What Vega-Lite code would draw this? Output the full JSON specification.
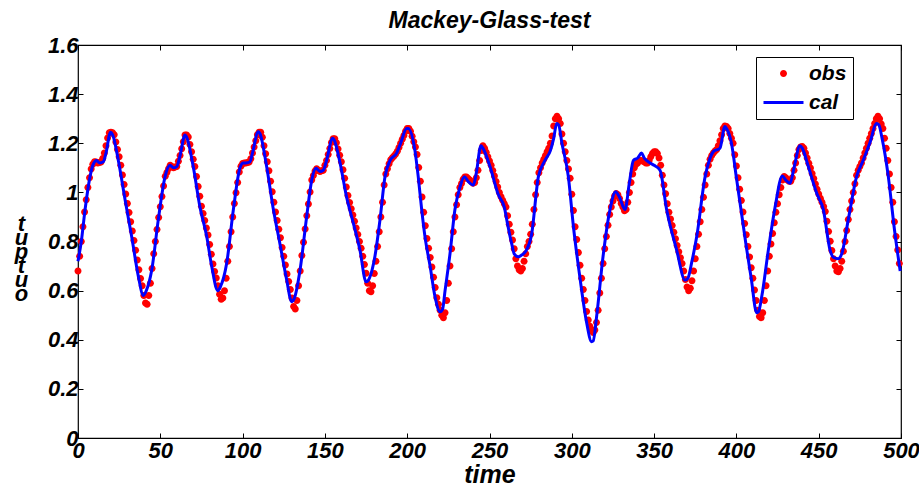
{
"$schema":"https://vega.github.io/schema/vega-lite/v6.json",
"width":823,"height":393,
"autosize":{"type":"none"},
"padding":{"left":78,"top":45,"right":18,"bottom":49},
"background":"white",
"config":{"view":{"stroke":"black","strokeWidth":1.2},"font":"Liberation Sans"},
"title":{"text":"Mackey-Glass-test","fontSize":23,"font":"Liberation Sans","fontWeight":"bold","fontStyle":"italic","color":"black","offset":1},
"datasets":{
"obs":[{"t":0,"v":0.68},{"t":1,"v":0.74},{"t":2,"v":0.80},{"t":3,"v":0.86},{"t":4,"v":0.92},{"t":5,"v":0.97},{"t":6,"v":1.02},{"t":7,"v":1.06},{"t":8,"v":1.095},{"t":9,"v":1.115},{"t":10,"v":1.125},{"t":11,"v":1.124},{"t":12,"v":1.12},{"t":13,"v":1.122},{"t":14,"v":1.124},{"t":15,"v":1.138},{"t":16,"v":1.16},{"t":17,"v":1.19},{"t":18,"v":1.221},{"t":19,"v":1.243},{"t":20,"v":1.245},{"t":21,"v":1.243},{"t":22,"v":1.235},{"t":23,"v":1.205},{"t":24,"v":1.175},{"t":25,"v":1.145},{"t":26,"v":1.11},{"t":27,"v":1.071},{"t":28,"v":1.032},{"t":29,"v":0.993},{"t":30,"v":0.955},{"t":31,"v":0.918},{"t":32,"v":0.88},{"t":33,"v":0.843},{"t":34,"v":0.804},{"t":35,"v":0.764},{"t":36,"v":0.725},{"t":37,"v":0.685},{"t":38,"v":0.649},{"t":39,"v":0.62},{"t":40,"v":0.58},{"t":41,"v":0.55},{"t":42,"v":0.545},{"t":43,"v":0.58},{"t":44,"v":0.63},{"t":45,"v":0.69},{"t":46,"v":0.75},{"t":47,"v":0.80},{"t":48,"v":0.849},{"t":49,"v":0.898},{"t":50,"v":0.941},{"t":51,"v":0.983},{"t":52,"v":1.026},{"t":53,"v":1.066},{"t":54,"v":1.081},{"t":55,"v":1.096},{"t":56,"v":1.11},{"t":57,"v":1.105},{"t":58,"v":1.10},{"t":59,"v":1.103},{"t":60,"v":1.105},{"t":61,"v":1.127},{"t":62,"v":1.15},{"t":63,"v":1.178},{"t":64,"v":1.206},{"t":65,"v":1.234},{"t":66,"v":1.234},{"t":67,"v":1.225},{"t":68,"v":1.195},{"t":69,"v":1.165},{"t":70,"v":1.135},{"t":71,"v":1.105},{"t":72,"v":1.065},{"t":73,"v":1.024},{"t":74,"v":0.984},{"t":75,"v":0.944},{"t":76,"v":0.914},{"t":77,"v":0.885},{"t":78,"v":0.855},{"t":79,"v":0.826},{"t":80,"v":0.788},{"t":81,"v":0.748},{"t":82,"v":0.708},{"t":83,"v":0.678},{"t":84,"v":0.651},{"t":85,"v":0.62},{"t":86,"v":0.585},{"t":87,"v":0.565},{"t":88,"v":0.57},{"t":89,"v":0.60},{"t":90,"v":0.65},{"t":91,"v":0.72},{"t":92,"v":0.78},{"t":93,"v":0.84},{"t":94,"v":0.90},{"t":95,"v":0.955},{"t":96,"v":0.998},{"t":97,"v":1.04},{"t":98,"v":1.083},{"t":99,"v":1.106},{"t":100,"v":1.118},{"t":101,"v":1.12},{"t":102,"v":1.12},{"t":103,"v":1.122},{"t":104,"v":1.124},{"t":105,"v":1.137},{"t":106,"v":1.16},{"t":107,"v":1.185},{"t":108,"v":1.21},{"t":109,"v":1.235},{"t":110,"v":1.245},{"t":111,"v":1.245},{"t":112,"v":1.224},{"t":113,"v":1.19},{"t":114,"v":1.157},{"t":115,"v":1.125},{"t":116,"v":1.088},{"t":117,"v":1.045},{"t":118,"v":1.003},{"t":119,"v":0.96},{"t":120,"v":0.92},{"t":121,"v":0.885},{"t":122,"v":0.85},{"t":123,"v":0.815},{"t":124,"v":0.776},{"t":125,"v":0.74},{"t":126,"v":0.704},{"t":127,"v":0.668},{"t":128,"v":0.637},{"t":129,"v":0.605},{"t":130,"v":0.57},{"t":131,"v":0.535},{"t":132,"v":0.525},{"t":133,"v":0.56},{"t":134,"v":0.62},{"t":135,"v":0.68},{"t":136,"v":0.743},{"t":137,"v":0.797},{"t":138,"v":0.851},{"t":139,"v":0.905},{"t":140,"v":0.953},{"t":141,"v":1.002},{"t":142,"v":1.05},{"t":143,"v":1.069},{"t":144,"v":1.087},{"t":145,"v":1.096},{"t":146,"v":1.09},{"t":147,"v":1.085},{"t":148,"v":1.088},{"t":149,"v":1.09},{"t":150,"v":1.11},{"t":151,"v":1.13},{"t":152,"v":1.154},{"t":153,"v":1.179},{"t":154,"v":1.203},{"t":155,"v":1.218},{"t":156,"v":1.218},{"t":157,"v":1.202},{"t":158,"v":1.177},{"t":159,"v":1.151},{"t":160,"v":1.125},{"t":161,"v":1.092},{"t":162,"v":1.057},{"t":163,"v":1.022},{"t":164,"v":0.987},{"t":165,"v":0.959},{"t":166,"v":0.933},{"t":167,"v":0.908},{"t":168,"v":0.882},{"t":169,"v":0.855},{"t":170,"v":0.828},{"t":171,"v":0.80},{"t":172,"v":0.773},{"t":173,"v":0.74},{"t":174,"v":0.706},{"t":175,"v":0.671},{"t":176,"v":0.63},{"t":177,"v":0.60},{"t":178,"v":0.595},{"t":179,"v":0.62},{"t":180,"v":0.67},{"t":181,"v":0.72},{"t":182,"v":0.78},{"t":183,"v":0.84},{"t":184,"v":0.90},{"t":185,"v":0.96},{"t":186,"v":1.03},{"t":187,"v":1.075},{"t":188,"v":1.096},{"t":189,"v":1.117},{"t":190,"v":1.133},{"t":191,"v":1.141},{"t":192,"v":1.148},{"t":193,"v":1.156},{"t":194,"v":1.167},{"t":195,"v":1.183},{"t":196,"v":1.2},{"t":197,"v":1.216},{"t":198,"v":1.232},{"t":199,"v":1.249},{"t":200,"v":1.26},{"t":201,"v":1.26},{"t":202,"v":1.249},{"t":203,"v":1.228},{"t":204,"v":1.206},{"t":205,"v":1.185},{"t":206,"v":1.154},{"t":207,"v":1.101},{"t":208,"v":1.045},{"t":209,"v":0.981},{"t":210,"v":0.919},{"t":211,"v":0.864},{"t":212,"v":0.812},{"t":213,"v":0.773},{"t":214,"v":0.735},{"t":215,"v":0.696},{"t":216,"v":0.654},{"t":217,"v":0.613},{"t":218,"v":0.571},{"t":219,"v":0.545},{"t":220,"v":0.52},{"t":221,"v":0.50},{"t":222,"v":0.49},{"t":223,"v":0.51},{"t":224,"v":0.56},{"t":225,"v":0.63},{"t":226,"v":0.70},{"t":227,"v":0.77},{"t":228,"v":0.84},{"t":229,"v":0.90},{"t":230,"v":0.95},{"t":231,"v":0.99},{"t":232,"v":1.02},{"t":233,"v":1.036},{"t":234,"v":1.053},{"t":235,"v":1.063},{"t":236,"v":1.063},{"t":237,"v":1.056},{"t":238,"v":1.05},{"t":239,"v":1.044},{"t":240,"v":1.037},{"t":241,"v":1.04},{"t":242,"v":1.06},{"t":243,"v":1.09},{"t":244,"v":1.13},{"t":245,"v":1.17},{"t":246,"v":1.19},{"t":247,"v":1.18},{"t":248,"v":1.163},{"t":249,"v":1.145},{"t":250,"v":1.128},{"t":251,"v":1.11},{"t":252,"v":1.089},{"t":253,"v":1.067},{"t":254,"v":1.044},{"t":255,"v":1.022},{"t":256,"v":0.999},{"t":257,"v":0.982},{"t":258,"v":0.968},{"t":259,"v":0.954},{"t":260,"v":0.94},{"t":261,"v":0.905},{"t":262,"v":0.87},{"t":263,"v":0.838},{"t":264,"v":0.806},{"t":265,"v":0.77},{"t":266,"v":0.73},{"t":267,"v":0.70},{"t":268,"v":0.685},{"t":269,"v":0.68},{"t":270,"v":0.69},{"t":271,"v":0.72},{"t":272,"v":0.75},{"t":273,"v":0.78},{"t":274,"v":0.80},{"t":275,"v":0.83},{"t":276,"v":0.87},{"t":277,"v":0.93},{"t":278,"v":0.99},{"t":279,"v":1.04},{"t":280,"v":1.08},{"t":281,"v":1.10},{"t":282,"v":1.12},{"t":283,"v":1.135},{"t":284,"v":1.15},{"t":285,"v":1.165},{"t":286,"v":1.18},{"t":287,"v":1.20},{"t":288,"v":1.23},{"t":289,"v":1.27},{"t":290,"v":1.30},{"t":291,"v":1.31},{"t":292,"v":1.30},{"t":293,"v":1.28},{"t":294,"v":1.238},{"t":295,"v":1.2},{"t":296,"v":1.165},{"t":297,"v":1.13},{"t":298,"v":1.095},{"t":299,"v":1.057},{"t":300,"v":0.992},{"t":301,"v":0.926},{"t":302,"v":0.86},{"t":303,"v":0.808},{"t":304,"v":0.755},{"t":305,"v":0.703},{"t":306,"v":0.65},{"t":307,"v":0.605},{"t":308,"v":0.56},{"t":309,"v":0.515},{"t":310,"v":0.48},{"t":311,"v":0.455},{"t":312,"v":0.44},{"t":313,"v":0.43},{"t":314,"v":0.44},{"t":315,"v":0.47},{"t":316,"v":0.52},{"t":317,"v":0.59},{"t":318,"v":0.65},{"t":319,"v":0.71},{"t":320,"v":0.77},{"t":321,"v":0.82},{"t":322,"v":0.866},{"t":323,"v":0.91},{"t":324,"v":0.94},{"t":325,"v":0.965},{"t":326,"v":0.985},{"t":327,"v":0.995},{"t":328,"v":0.99},{"t":329,"v":0.975},{"t":330,"v":0.955},{"t":331,"v":0.94},{"t":332,"v":0.925},{"t":333,"v":0.93},{"t":334,"v":0.96},{"t":335,"v":1.0},{"t":336,"v":1.04},{"t":337,"v":1.075},{"t":338,"v":1.10},{"t":339,"v":1.115},{"t":340,"v":1.12},{"t":341,"v":1.13},{"t":342,"v":1.13},{"t":343,"v":1.128},{"t":344,"v":1.125},{"t":345,"v":1.12},{"t":346,"v":1.12},{"t":347,"v":1.13},{"t":348,"v":1.145},{"t":349,"v":1.158},{"t":350,"v":1.165},{"t":351,"v":1.165},{"t":352,"v":1.158},{"t":353,"v":1.14},{"t":354,"v":1.11},{"t":355,"v":1.07},{"t":356,"v":1.03},{"t":357,"v":0.994},{"t":358,"v":0.954},{"t":359,"v":0.919},{"t":360,"v":0.892},{"t":361,"v":0.865},{"t":362,"v":0.838},{"t":363,"v":0.811},{"t":364,"v":0.784},{"t":365,"v":0.758},{"t":366,"v":0.734},{"t":367,"v":0.71},{"t":368,"v":0.68},{"t":369,"v":0.645},{"t":370,"v":0.615},{"t":371,"v":0.60},{"t":372,"v":0.61},{"t":373,"v":0.64},{"t":374,"v":0.68},{"t":375,"v":0.73},{"t":376,"v":0.78},{"t":377,"v":0.83},{"t":378,"v":0.88},{"t":379,"v":0.93},{"t":380,"v":0.98},{"t":381,"v":1.03},{"t":382,"v":1.075},{"t":383,"v":1.11},{"t":384,"v":1.135},{"t":385,"v":1.15},{"t":386,"v":1.16},{"t":387,"v":1.168},{"t":388,"v":1.175},{"t":389,"v":1.19},{"t":390,"v":1.21},{"t":391,"v":1.235},{"t":392,"v":1.26},{"t":393,"v":1.27},{"t":394,"v":1.268},{"t":395,"v":1.26},{"t":396,"v":1.24},{"t":397,"v":1.22},{"t":398,"v":1.2},{"t":399,"v":1.153},{"t":400,"v":1.107},{"t":401,"v":1.06},{"t":402,"v":1.013},{"t":403,"v":0.967},{"t":404,"v":0.92},{"t":405,"v":0.873},{"t":406,"v":0.827},{"t":407,"v":0.78},{"t":408,"v":0.737},{"t":409,"v":0.693},{"t":410,"v":0.65},{"t":411,"v":0.603},{"t":412,"v":0.56},{"t":413,"v":0.52},{"t":414,"v":0.495},{"t":415,"v":0.49},{"t":416,"v":0.51},{"t":417,"v":0.56},{"t":418,"v":0.62},{"t":419,"v":0.68},{"t":420,"v":0.74},{"t":421,"v":0.79},{"t":422,"v":0.833},{"t":423,"v":0.876},{"t":424,"v":0.919},{"t":425,"v":0.954},{"t":426,"v":0.99},{"t":427,"v":1.02},{"t":428,"v":1.05},{"t":429,"v":1.065},{"t":430,"v":1.06},{"t":431,"v":1.05},{"t":432,"v":1.045},{"t":433,"v":1.045},{"t":434,"v":1.06},{"t":435,"v":1.09},{"t":436,"v":1.12},{"t":437,"v":1.15},{"t":438,"v":1.175},{"t":439,"v":1.185},{"t":440,"v":1.187},{"t":441,"v":1.18},{"t":442,"v":1.16},{"t":443,"v":1.14},{"t":444,"v":1.119},{"t":445,"v":1.099},{"t":446,"v":1.077},{"t":447,"v":1.056},{"t":448,"v":1.034},{"t":449,"v":1.013},{"t":450,"v":0.993},{"t":451,"v":0.976},{"t":452,"v":0.96},{"t":453,"v":0.943},{"t":454,"v":0.922},{"t":455,"v":0.882},{"t":456,"v":0.841},{"t":457,"v":0.801},{"t":458,"v":0.763},{"t":459,"v":0.73},{"t":460,"v":0.70},{"t":461,"v":0.68},{"t":462,"v":0.677},{"t":463,"v":0.69},{"t":464,"v":0.72},{"t":465,"v":0.76},{"t":466,"v":0.80},{"t":467,"v":0.845},{"t":468,"v":0.89},{"t":469,"v":0.93},{"t":470,"v":0.965},{"t":471,"v":1.0},{"t":472,"v":1.035},{"t":473,"v":1.07},{"t":474,"v":1.09},{"t":475,"v":1.105},{"t":476,"v":1.12},{"t":477,"v":1.14},{"t":478,"v":1.16},{"t":479,"v":1.18},{"t":480,"v":1.2},{"t":481,"v":1.22},{"t":482,"v":1.24},{"t":483,"v":1.26},{"t":484,"v":1.28},{"t":485,"v":1.3},{"t":486,"v":1.31},{"t":487,"v":1.3},{"t":488,"v":1.278},{"t":489,"v":1.26},{"t":490,"v":1.22},{"t":491,"v":1.18},{"t":492,"v":1.13},{"t":493,"v":1.075},{"t":494,"v":1.02},{"t":495,"v":0.96},{"t":496,"v":0.88},{"t":497,"v":0.82},{"t":498,"v":0.765},{"t":499,"v":0.71}],
"cal":[{"t":0,"v":0.72},{"t":2,"v":0.80},{"t":4.3,"v":0.93},{"t":7.3,"v":1.064},{"t":9,"v":1.11},{"t":11.3,"v":1.13},{"t":13,"v":1.12},{"t":15.4,"v":1.125},{"t":17,"v":1.16},{"t":19.8,"v":1.245},{"t":21,"v":1.235},{"t":24.5,"v":1.13},{"t":28.6,"v":0.97},{"t":32.6,"v":0.82},{"t":36.7,"v":0.657},{"t":39.7,"v":0.58},{"t":41.5,"v":0.60},{"t":44.8,"v":0.684},{"t":48.8,"v":0.89},{"t":52.9,"v":1.064},{"t":55.9,"v":1.11},{"t":58,"v":1.10},{"t":60,"v":1.105},{"t":62,"v":1.15},{"t":65,"v":1.234},{"t":66,"v":1.225},{"t":70,"v":1.105},{"t":74.1,"v":0.94},{"t":78.2,"v":0.82},{"t":81.2,"v":0.70},{"t":84.9,"v":0.60},{"t":86.5,"v":0.615},{"t":90.3,"v":0.71},{"t":94.4,"v":0.93},{"t":98.4,"v":1.10},{"t":100.4,"v":1.12},{"t":102,"v":1.12},{"t":104.5,"v":1.125},{"t":106,"v":1.16},{"t":109.5,"v":1.247},{"t":110.5,"v":1.24},{"t":114.6,"v":1.105},{"t":118.7,"v":0.93},{"t":122.7,"v":0.79},{"t":126.8,"v":0.643},{"t":129.8,"v":0.555},{"t":131.5,"v":0.57},{"t":134.9,"v":0.684},{"t":138.9,"v":0.90},{"t":142,"v":1.05},{"t":144.6,"v":1.098},{"t":147,"v":1.085},{"t":149,"v":1.09},{"t":151,"v":1.13},{"t":154.7,"v":1.22},{"t":155.5,"v":1.215},{"t":159.2,"v":1.12},{"t":163.2,"v":0.98},{"t":167.3,"v":0.874},{"t":171.3,"v":0.765},{"t":175,"v":0.636},{"t":177,"v":0.65},{"t":180.4,"v":0.74},{"t":183.5,"v":0.89},{"t":186.5,"v":1.064},{"t":189.6,"v":1.13},{"t":193.6,"v":1.16},{"t":196,"v":1.2},{"t":199.7,"v":1.26},{"t":200.5,"v":1.26},{"t":204.7,"v":1.17},{"t":206.7,"v":1.064},{"t":208.8,"v":0.93},{"t":210.8,"v":0.82},{"t":213.9,"v":0.70},{"t":216.9,"v":0.575},{"t":220,"v":0.514},{"t":221.5,"v":0.525},{"t":223,"v":0.60},{"t":226,"v":0.75},{"t":229,"v":0.93},{"t":232,"v":1.02},{"t":234.7,"v":1.064},{"t":237,"v":1.045},{"t":240.2,"v":1.03},{"t":242,"v":1.08},{"t":244.8,"v":1.19},{"t":246,"v":1.18},{"t":250.3,"v":1.105},{"t":255.4,"v":0.99},{"t":259,"v":0.94},{"t":261,"v":0.87},{"t":263.5,"v":0.79},{"t":265,"v":0.75},{"t":267.5,"v":0.738},{"t":269.5,"v":0.745},{"t":272,"v":0.76},{"t":275.6,"v":0.83},{"t":279.7,"v":1.064},{"t":283.7,"v":1.13},{"t":287,"v":1.17},{"t":289,"v":1.22},{"t":290.8,"v":1.28},{"t":292,"v":1.275},{"t":294,"v":1.2},{"t":297.9,"v":1.064},{"t":301,"v":0.86},{"t":305,"v":0.65},{"t":309,"v":0.47},{"t":312,"v":0.392},{"t":313,"v":0.395},{"t":315,"v":0.49},{"t":319,"v":0.74},{"t":323.2,"v":0.93},{"t":326.6,"v":1.003},{"t":329,"v":0.98},{"t":332.3,"v":0.93},{"t":335,"v":1.04},{"t":337.4,"v":1.13},{"t":340,"v":1.14},{"t":342.4,"v":1.16},{"t":344,"v":1.14},{"t":347.5,"v":1.12},{"t":350,"v":1.11},{"t":353.6,"v":1.09},{"t":357.6,"v":0.93},{"t":363.7,"v":0.765},{"t":368.8,"v":0.643},{"t":370.5,"v":0.65},{"t":373,"v":0.72},{"t":375.9,"v":0.82},{"t":381,"v":1.064},{"t":383.5,"v":1.13},{"t":386,"v":1.166},{"t":390,"v":1.18},{"t":393,"v":1.268},{"t":394,"v":1.26},{"t":397,"v":1.2},{"t":400,"v":1.06},{"t":403,"v":0.92},{"t":406,"v":0.78},{"t":409,"v":0.65},{"t":412.3,"v":0.51},{"t":413.5,"v":0.515},{"t":415.5,"v":0.58},{"t":419.4,"v":0.765},{"t":423.5,"v":0.94},{"t":427.9,"v":1.067},{"t":430,"v":1.05},{"t":432.6,"v":1.037},{"t":435,"v":1.1},{"t":438.6,"v":1.19},{"t":440,"v":1.18},{"t":443.7,"v":1.105},{"t":448.8,"v":0.996},{"t":452.8,"v":0.93},{"t":456.9,"v":0.765},{"t":459,"v":0.735},{"t":461.9,"v":0.73},{"t":464,"v":0.75},{"t":468,"v":0.89},{"t":473,"v":1.064},{"t":477,"v":1.13},{"t":481,"v":1.2},{"t":485.2,"v":1.28},{"t":486.5,"v":1.275},{"t":488.5,"v":1.22},{"t":492.3,"v":1.064},{"t":496,"v":0.85},{"t":499.5,"v":0.68}]
},
"resolve":{"axis":{"x":"independent","y":"independent"}},
"layer":[
{"data":{"name":"obs"},
 "mark":{"type":"point","filled":true,"opacity":1,"size":400,"clip":false},
 "encoding":{
  "x":{"field":"t","type":"quantitative","scale":{"domain":[0,500],"nice":false,"zero":false},
   "axis":{"values":[0,50,100,150,200,250,300,350,400,450,500],"title":"time","titleFontSize":25,"titleFont":"Liberation Sans","titleFontWeight":"bold","titleFontStyle":"italic","titleColor":"black","titlePadding":1,
    "labelFontSize":22,"labelFont":"Liberation Sans","labelFontWeight":"bold","labelFontStyle":"italic","labelColor":"black","labelPadding":7,"labelFlush":false,
    "domain":false,"grid":false,"ticks":true,"tickSize":-5,"tickColor":"black","tickWidth":1}},
  "y":{"field":"v","type":"quantitative","scale":{"domain":[0,1.6],"nice":false,"zero":false},
   "axis":{"values":[0,0.2,0.4,0.6,0.8,1,1.2,1.4,1.6],"format":".1~f","title":["t","u","p","t","u","o"],"titleAngle":0,"titleLineHeight":14,"titleFontSize":22,"titleFont":"Liberation Sans","titleFontWeight":"bold","titleFontStyle":"italic","titleColor":"black","titleX":-57,"titleY":168,"titleAlign":"center","titleBaseline":"top",
    "labelFontSize":22,"labelFont":"Liberation Sans","labelFontWeight":"bold","labelFontStyle":"italic","labelColor":"black","labelPadding":5,"labelFlush":false,
    "domain":false,"grid":false,"ticks":true,"tickSize":-5,"tickColor":"black","tickWidth":1}},
  "color":{"datum":"obs","scale":{"domain":["obs","cal"],"range":["#ff0000","#0000ff"]},
   "legend":{"title":null,"orient":"none","legendX":678,"legendY":12,"direction":"vertical","strokeColor":"black","fillColor":"white","padding":6,"symbolSize":400,"symbolOffset":11,"symbolStrokeWidth":0,"labelFontSize":21,"labelFont":"Liberation Sans","labelFontWeight":"bold","labelFontStyle":"italic","labelColor":"black","labelOffset":15,"rowPadding":7,"labelExpr":"datum.label + '    '"}},
  "shape":{"datum":"obs","scale":{"domain":["obs","cal"],"range":["M-0.35,0A0.35,0.35,0,1,0,0.35,0A0.35,0.35,0,1,0,-0.35,0Z","M-2,-0.15H2V0.15H-2Z"]},"legend":{"title":null,"orient":"none","legendX":678,"legendY":12}}
 }},
{"data":{"name":"cal"},
 "mark":{"type":"line","color":"#0000ff","strokeWidth":3,"interpolate":"monotone","clip":false},
 "encoding":{
  "x":{"field":"t","type":"quantitative","scale":{"domain":[0,500],"nice":false,"zero":false},
   "axis":{"orient":"top","values":[0,50,100,150,200,250,300,350,400,450,500],"labels":false,"title":null,"domain":false,"grid":false,"tickSize":-5,"tickColor":"black","tickWidth":1}},
  "y":{"field":"v","type":"quantitative","scale":{"domain":[0,1.6],"nice":false,"zero":false},
   "axis":{"orient":"right","values":[0,0.2,0.4,0.6,0.8,1,1.2,1.4,1.6],"labels":false,"title":null,"domain":false,"grid":false,"tickSize":-5,"tickColor":"black","tickWidth":1}}
 }}
]
}
